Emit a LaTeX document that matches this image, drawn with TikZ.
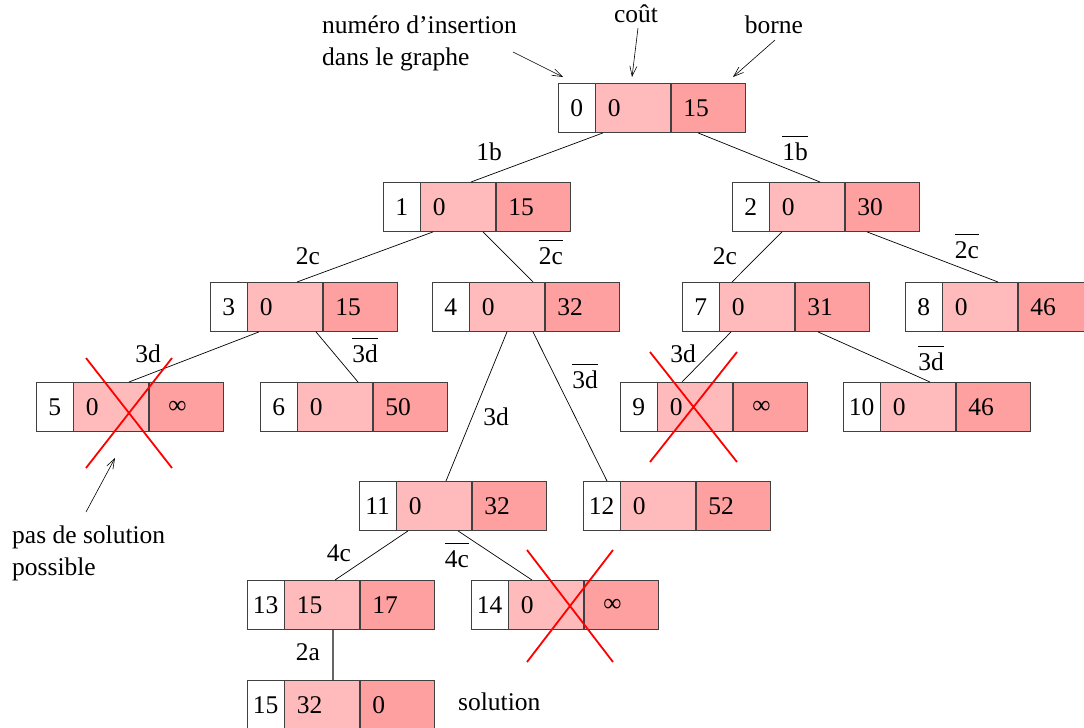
\documentclass[tikz,border=0pt]{standalone}
\usepackage{fontspec}
\setmainfont{Liberation Serif}
\usetikzlibrary{arrows.meta,calc}
\definecolor{rosec}{HTML}{FFBBBB}
\definecolor{rosef}{HTML}{FFA0A0}
\tikzset{
	case/.style={draw=black!75, line width=0.9pt, minimum height=49, inner sep=0pt, anchor=north west},
	numcase/.style={case, fill=white, minimum width=36.5},
	valcase/.style={case, minimum width=74.5, text width=50.5, inner xsep=12, align=left},
	arete/.style={line width=0.7pt},
	fleche/.style={line width=0.6pt, -{Straight Barb[length=10pt,width=7pt]}},
	rouge/.style={draw=red, line width=1.8pt}
}
% un etat : nom, position, numero, cout, borne
\newcommand{\etat}[5]{%
	\node[numcase] (#1) at #2 {#3};
	\node[valcase, fill=rosec] (#1-c) at (#1.north east) {#4};
	\node[valcase, fill=rosef] (#1-b) at (#1-c.north east) {#5};
}
\newcommand{\barre}[1]{$\overline{\hbox{\rule{0pt}{0.88em}#1}}$}
\newcommand{\infini}{\hspace{7pt}∞}
\begin{document}
\begin{tikzpicture}[x=1pt,y=-1pt,font=\fontsize{25.5}{32}\selectfont]
	\useasboundingbox (0,0) rectangle (1084,728);
	% les etats
	\foreach \nom/\px/\py/\ins/\cou/\bor in {n0/558/83/0/0/15, n1/383/182/1/0/15, n2/732/182/2/0/30,
		n3/210/282/3/0/15, n4/432/282/4/0/32, n7/682/282/7/0/31, n8/905/282/8/0/46,
		n5/36/382/5/0/\infini, n6/260/382/6/0/50, n9/620/382/9/0/\infini, n10/843/382/10/0/46,
		n11/359/481/11/0/32, n12/583/481/12/0/52, n13/247/580/13/15/17, n14/471/580/14/0/\infini,
		n15/247/680/15/32/0}
		{\etat{\nom}{(\px,\py)}{\ins}{\cou}{\bor}}
	% les branches
	\foreach \ori/\dx/\fil/\fx in {n0/45/n1/88, n0/140/n2/88, n1/50/n3/87, n1/100/n4/101,
		n2/50/n7/50, n2/135/n8/93, n3/49/n5/93, n3/106/n6/98, n4/75/n11/87, n4/101/n12/24,
		n7/49/n9/62, n7/136/n10/87, n11/49/n13/88, n11/99/n14/61}
		\draw[arete] ($(\ori.south west)+(\dx,0)$) -- ($(\fil.north west)+(\fx,0)$);
	\draw[arete, draw=black!60, line width=1.2pt] ($(n13.south west)+(86,0)$) -- ($(n15.north west)+(86,0)$);
	% les etiquettes
	\node[anchor=base] at (489,160) {1b};
	\node[anchor=base] at (795,160) {\barre{1b}};
	\node[anchor=base] at (308,264) {2c};
	\node[anchor=base] at (551,264) {\barre{2c}};
	\node[anchor=base] at (725,264) {2c};
	\node[anchor=base] at (967,258) {\barre{2c}};
	\node[anchor=base] at (148,362) {3d};
	\node[anchor=base] at (365,362) {\barre{3d}};
	\node[anchor=base] at (683,362) {3d};
	\node[anchor=base] at (931,370) {\barre{3d}};
	\node[anchor=base] at (496,425) {3d};
	\node[anchor=base] at (585,388) {\barre{3d}};
	\node[anchor=base] at (339,561) {4c};
	\node[anchor=base] at (457,567) {\barre{4c}};
	\node[anchor=base] at (308,660) {2a};
	\node[anchor=base west, inner sep=0pt] (sol) at (458,710) {solution};
	% les legendes
	\node[anchor=base west, align=left, inner sep=0pt] (lnum) at (322,65) {numéro d’insertion\\dans le graphe};
	\node[anchor=base] (lcout) at (636,22) {coût};
	\node[anchor=base] (lborne) at (774,33) {borne};
	\node[anchor=base west, align=left, inner sep=0pt] (lpas) at (12,575) {pas de solution\\possible};
	\coordinate (a1) at (513,52); \coordinate (b1) at (563,77);
	\coordinate (a2) at (638,28); \coordinate (b2) at (632,77);
	\coordinate (a3) at (775,40); \coordinate (b3) at (733,77);
	\coordinate (a4) at (86,512); \coordinate (b4) at (115,458);
	\foreach \i in {1,...,4}
		\draw[fleche] (a\i) -- (b\i);
	% les etats sans solution
	\foreach \nom/\xa/\ya/\xb/\yb in {n5/50/-24/136/86, n9/30/-30/117/80, n14/56/-30/142/82}
		\draw[rouge] ($(\nom.north west)+(\xa,\ya)$) -- ($(\nom.north west)+(\xb,\yb)$)
			($(\nom.north west)+(\xb,\ya)$) -- ($(\nom.north west)+(\xa,\yb)$);
\end{tikzpicture}
\end{document}
